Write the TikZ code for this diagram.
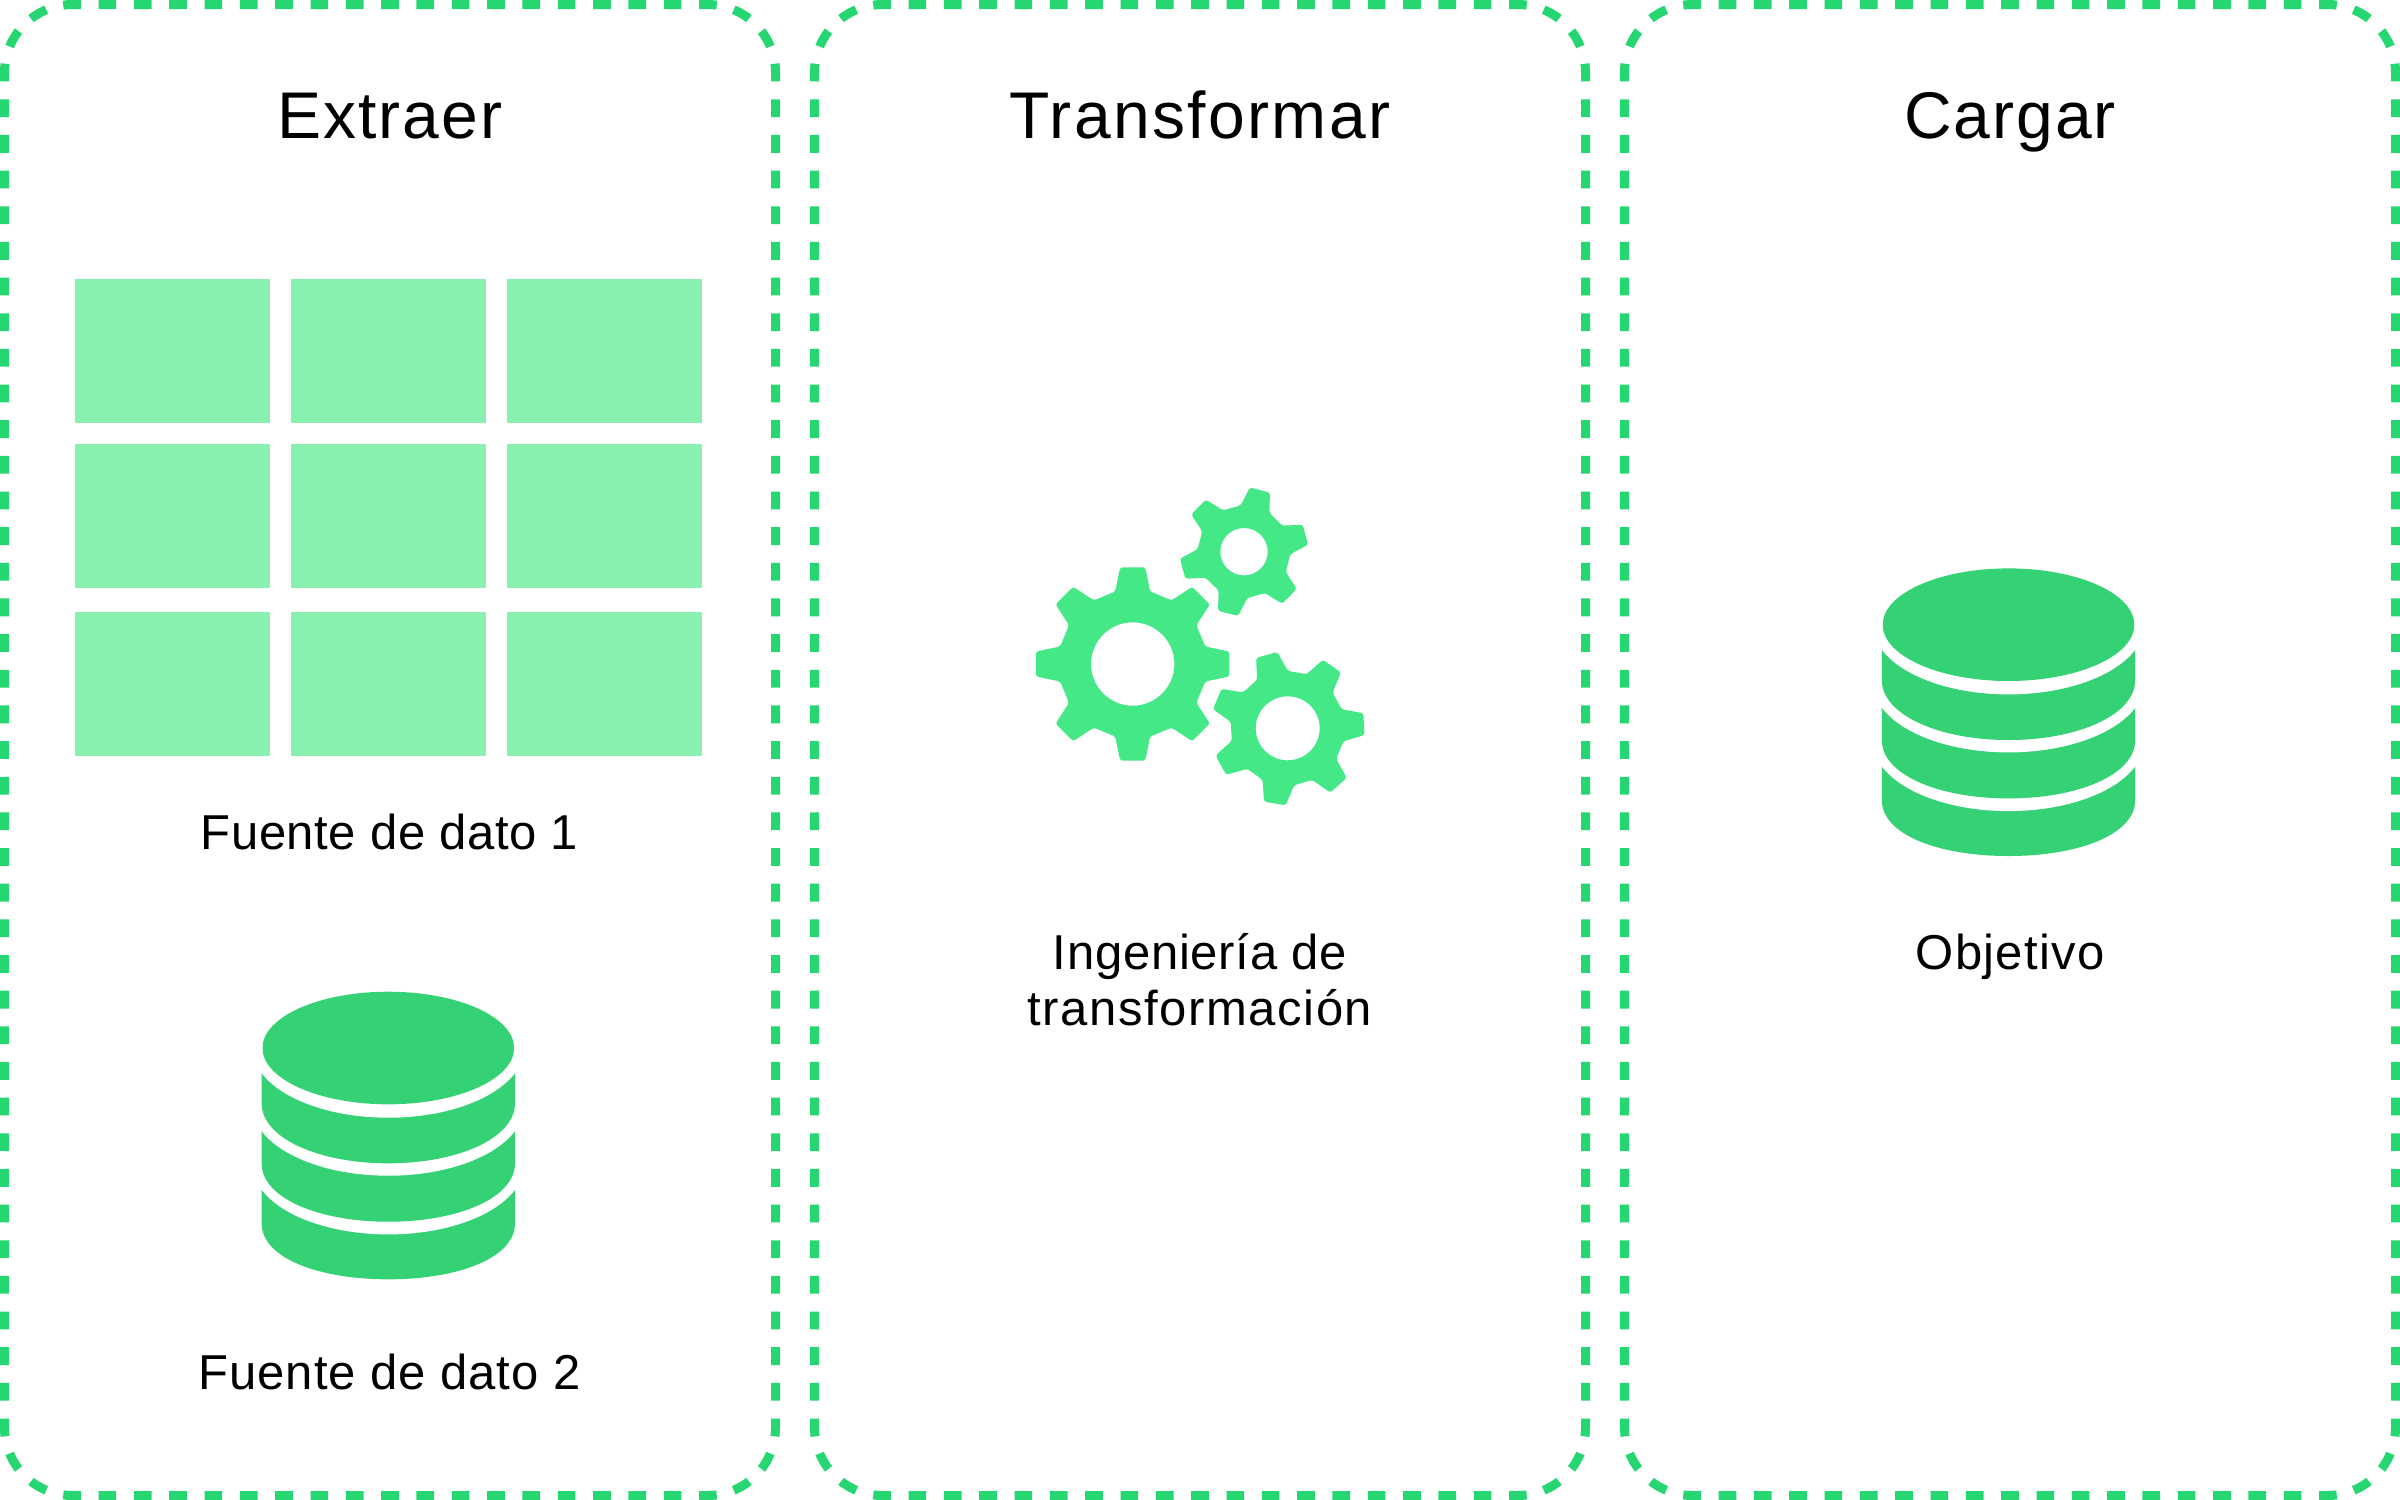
\documentclass[tikz,border=0pt]{standalone}
\usepackage{fontspec}
\setmainfont{Liberation Sans}
\definecolor{dashgreen}{HTML}{26D670}
\definecolor{cellgreen}{HTML}{88F1AF}
\definecolor{geargreen}{HTML}{45E887}
\definecolor{dbgreen}{HTML}{34D274}
\newcommand{\ls}[1]{\addfontfeature{LetterSpace=#1}}
\tikzset{
  sideh/.style={draw=dashgreen,line width=4.5pt,dash pattern={on 8.831pt off 8.831pt},dash phase=13.247pt},
  sidev/.style={draw=dashgreen,line width=4.5pt,dash pattern={on 8.9135pt off 8.9135pt},dash phase=13.370pt},
  cellbox/.style={fill=cellgreen},
  titletext/.style={anchor=base,inner sep=0pt,font=\fontsize{33}{38}\selectfont},
  labeltext/.style={anchor=base,inner sep=0pt,font=\fontsize{24.5}{28}\selectfont},
}
% panel: left x, right x
\newcommand{\panelbox}[2]{%
  \pgfmathsetmacro{\xl}{#1}\pgfmathsetmacro{\xr}{#2}%
  \pgfmathsetmacro{\cc}{68*(1-sqrt(2)/2)}%
  \pgfmathsetmacro{\yt}{4.5}\pgfmathsetmacro{\yb}{1495.5}%
  \draw[sideh] ({\xl+\cc},{\yt+\cc}) arc[start angle=-135,end angle=-90,radius=68] -- ({\xr-68},\yt) arc[start angle=-90,end angle=-45,radius=68];
  \draw[sideh] ({\xl+\cc},{\yb-\cc}) arc[start angle=135,end angle=90,radius=68] -- ({\xr-68},\yb) arc[start angle=90,end angle=45,radius=68];
  \draw[sidev] ({\xl+\cc},{\yt+\cc}) arc[start angle=-135,end angle=-180,radius=68] -- (\xl,{\yb-68}) arc[start angle=180,end angle=135,radius=68];
  \draw[sidev] ({\xr-\cc},{\yt+\cc}) arc[start angle=-45,end angle=0,radius=68] -- (\xr,{\yb-68}) arc[start angle=0,end angle=45,radius=68];
}
% gear: cx cy teeth rot tipHW tipR baseHW baseR hole
\newcommand{\gearicon}[9]{%
  \fill[geargreen,even odd rule,rounded corners=1.3]
   ({#1+(#6)*sin(#4)},{#2-(#6)*cos(#4)})
   \foreach \i [evaluate=\i as \a using {#4+\i*360/#3},evaluate=\i as \b using {#4+(\i+1)*360/#3}] in {0,...,\numexpr#3-1\relax}{
     -- ({#1+(#5)*cos(\a)+(#6)*sin(\a)},{#2+(#5)*sin(\a)-(#6)*cos(\a)})
     -- ({#1+(#7)*cos(\a)+(#8)*sin(\a)},{#2+(#7)*sin(\a)-(#8)*cos(\a)})
     -- ({#1-(#7)*cos(\b)+(#8)*sin(\b)},{#2-(#7)*sin(\b)-(#8)*cos(\b)})
     -- ({#1-(#5)*cos(\b)+(#6)*sin(\b)},{#2-(#5)*sin(\b)-(#6)*cos(\b)})
   }
   -- cycle
   (#1,#2) circle[radius=#9];
}
% database: centre of top ellipse
\newcommand{\dbicon}[2]{%
  \begin{scope}[shift={(#1,#2)}]
    \fill[dbgreen] (-126.7,116.7) -- (-126.7,175.3) .. controls (-126.7,210) and (-70,231.3) .. (0,231.3) .. controls (70,231.3) and (126.7,210) .. (126.7,175.3) -- (126.7,116.7) -- cycle;
    \fill[white] (0,116.7) ellipse[x radius=135.7,y radius=69.7];
    \fill[dbgreen] (-126.7,58) -- (-126.7,115.3) .. controls (-126.7,150) and (-70,173.7) .. (0,173.7) .. controls (70,173.7) and (126.7,150) .. (126.7,115.3) -- (126.7,58) -- cycle;
    \fill[white] (0,58) ellipse[x radius=135.7,y radius=69.7];
    \fill[dbgreen] (-126.7,0) -- (-126.7,55.3) .. controls (-126.7,90) and (-70,115.3) .. (0,115.3) .. controls (70,115.3) and (126.7,90) .. (126.7,55.3) -- (126.7,0) -- cycle;
    \fill[white] (0,0) ellipse[x radius=135.7,y radius=69.7];
    \fill[dbgreen] (0,0) ellipse[x radius=125.8,y radius=56.3];
  \end{scope}
}
\begin{document}
\begin{tikzpicture}[x=0.5pt,y=-0.5pt]
\useasboundingbox (0,0) rectangle (2400,1500);
\fill[white] (0,0) rectangle (2400,1500);
\panelbox{4.5}{775.5}
\panelbox{814.5}{1585.5}
\panelbox{1624.5}{2395.5}
% titles
\node[titletext] (t1) at (390,138) {\ls{2.9}Extraer};
\node[titletext] (t2) at (1200,138) {\ls{3.6}Transformar};
\node[titletext] (t3) at (2010,138) {\ls{3.1}Cargar};
% table
\foreach \xa/\xb in {75/270,291/486,507/702}{
  \foreach \ya/\yb in {279/423,444/588,612/756}{
    \fill[cellbox] (\xa,\ya) rectangle (\xb,\yb);
  }
}
\node[labeltext] (l1) at (389.5,849.3) {\ls{1.2}Fuente de dato 1};
\dbicon{388.3}{1048}
\node[labeltext] (l2) at (389.5,1389) {\ls{1.9}Fuente de dato 2};
% gears
\gearicon{1132.7}{664}{8}{0}{12.5}{96.7}{17.5}{72.5}{41.7}
\gearicon{1244}{551.7}{6}{14.5}{10.4}{63.7}{14.8}{44}{23.7}
\gearicon{1287.7}{728.3}{7}{-16}{11}{76.3}{16}{55}{32}
\node[labeltext] (l3) at (1200,969.3) {\ls{1.5}Ingeniería de};
\node[labeltext] (l4) at (1200,1025) {\ls{3.2}transformación};
% target
\dbicon{2008.5}{624.7}
\node[labeltext] (l5) at (2010,969.3) {\ls{2.6}Objetivo};
\end{tikzpicture}
\end{document}
